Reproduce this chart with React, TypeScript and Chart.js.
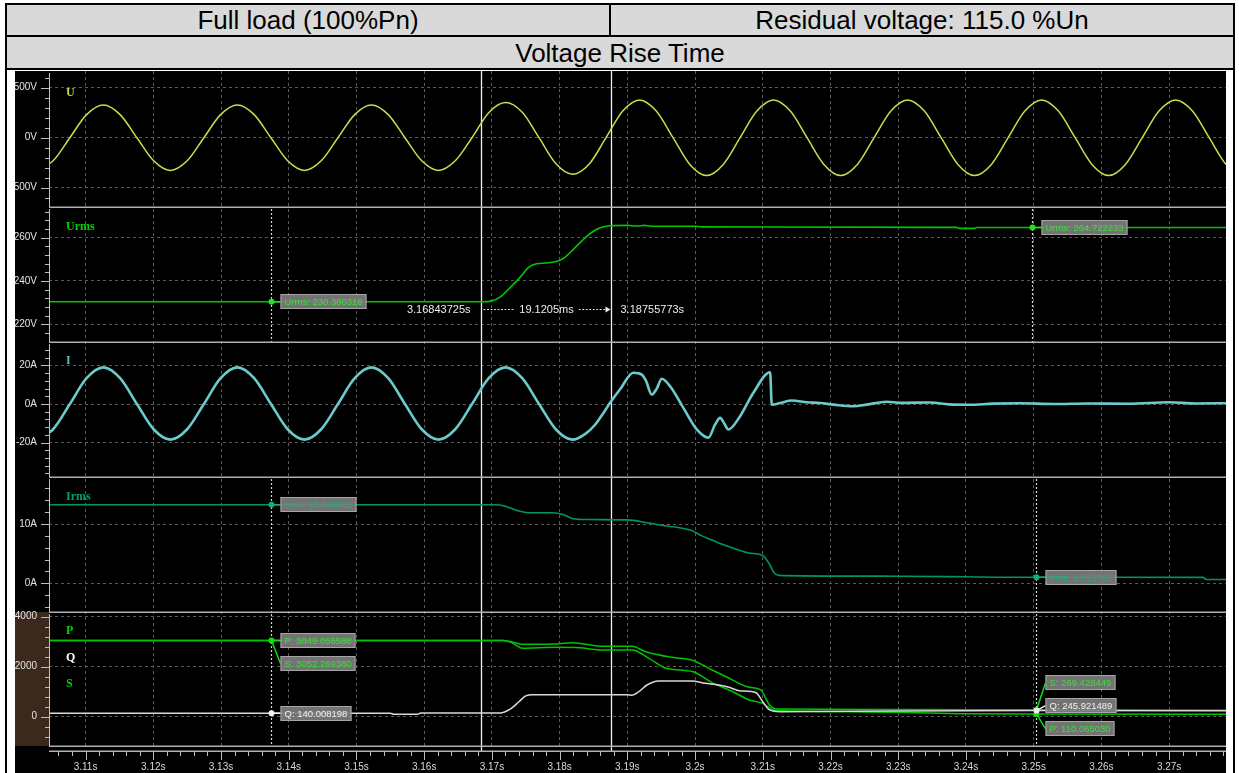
import React, { useEffect, useRef } from "react";
import { Chart, registerables } from "chart.js";

Chart.register(...registerables);

// ---- time axis -------------------------------------------------------------
const X_MIN = 3.1046;
const X_MAX = 3.2784;
const X_TICKS = [3.11, 3.12, 3.13, 3.14, 3.15, 3.16, 3.17, 3.18, 3.19, 3.2, 3.21, 3.22, 3.23, 3.24, 3.25, 3.26, 3.27];
const X_TICK_LABELS = ["3.11s", "3.12s", "3.13s", "3.14s", "3.15s", "3.16s", "3.17s", "3.18s", "3.19s", "3.2s", "3.21s", "3.22s", "3.23s", "3.24s", "3.25s", "3.26s", "3.27s"];

// ---- per-panel value axes --------------------------------------------------
const U_TICKS = [-500, 0, 500];
const U_TICK_LABELS = ["-500V", "0V", "500V"];
const URMS_TICKS = [220, 240, 260];
const URMS_TICK_LABELS = ["220V", "240V", "260V"];
const I_TICKS = [-20, 0, 20];
const I_TICK_LABELS = ["-20A", "0A", "20A"];
const IRMS_TICKS = [0, 10];
const IRMS_TICK_LABELS = ["0A", "10A"];
const PQS_TICKS = [0, 2000, 4000];
const PQS_TICK_LABELS = ["0", "2000", "4000"];

// ---- cursors and readings --------------------------------------------------
const CURSOR_A = 3.1374;
const CURSOR_B_URMS = 3.2498;
const CURSOR_B = 3.2503;
const RISE_START = 3.16843725;
const RISE_END = 3.18755773;

const URMS_READINGS = [230.380316, 264.722233];
const IRMS_READINGS = [13.248311, 1.017767];
const P_READINGS = [3049.056588, 110.06503];
const Q_READINGS = [140.008198, 245.921489];
const S_READINGS = [3052.26938, 269.428449];

// ---- series: [time s, value] -----------------------------------------------
const U_WAVE: [number, number][] = [
  [3.10273, -327], [3.10521, -231], [3.10768, 0], [3.11015, 231], [3.11263, 327], [3.1151, 231],
  [3.11758, 0], [3.12005, -231], [3.12252, -327], [3.125, -231], [3.12747, 0], [3.12994, 231],
  [3.13242, 327], [3.13489, 231], [3.13737, 0], [3.13984, -231], [3.14232, -327], [3.14479, -231],
  [3.14727, 0], [3.14974, 231], [3.15221, 327], [3.15469, 231], [3.15716, 0], [3.15964, -231],
  [3.16211, -327], [3.16459, -231], [3.16706, 0], [3.16953, 250], [3.17201, 352], [3.17448, 255],
  [3.17696, 0], [3.17943, -258], [3.1819, -365], [3.18438, -262], [3.18685, 0], [3.18932, 267],
  [3.1918, 378], [3.19427, 267], [3.19675, 0], [3.19922, -267], [3.2017, -378], [3.20417, -267],
  [3.20665, 0], [3.20912, 267], [3.21159, 378], [3.21407, 267], [3.21654, 0], [3.21902, -267],
  [3.22149, -378], [3.22397, -267], [3.22644, 0], [3.22891, 267], [3.23139, 378], [3.23386, 267],
  [3.23634, 0], [3.23881, -267], [3.24128, -378], [3.24376, -267], [3.24623, 0], [3.2487, 267],
  [3.25118, 378], [3.25365, 267], [3.25613, 0], [3.2586, -267], [3.26108, -378], [3.26355, -267],
  [3.26603, 0], [3.2685, 267], [3.27097, 378], [3.27345, 267], [3.27592, 0], [3.2784, -267],
  [3.28087, -378],
];

const URMS_SERIES: [number, number][] = [
  [3.104, 230.380316], [3.1684, 230.380316], [3.17, 230.8], [3.1712, 232.5], [3.1727, 237],
  [3.1742, 241.8], [3.1755, 246.5], [3.1766, 248], [3.178, 248.3], [3.1795, 249], [3.1806, 250.5],
  [3.182, 254.5], [3.1836, 259.5], [3.1851, 263.2], [3.1862, 264.8], [3.1875, 265.5], [3.19, 265.7],
  [3.1915, 265.4], [3.1925, 265.7], [3.1935, 265.3], [3.2, 265.3], [3.201, 265.0], [3.2386, 264.8],
  [3.239, 264.3], [3.2412, 264.3], [3.2416, 264.75], [3.2498, 264.722233], [3.279, 264.72],
];

const I_WAVE: [number, number][] = [
  [3.10273, -18.5], [3.10521, -13.1], [3.10768, 0], [3.11015, 13.4], [3.11263, 19], [3.1151, 13.4],
  [3.11758, 0], [3.12005, -13.1], [3.12252, -18.5], [3.125, -13.1], [3.12747, 0], [3.12994, 13.4],
  [3.13242, 19], [3.13489, 13.4], [3.13737, 0], [3.13984, -13.1], [3.14232, -18.5], [3.14479, -13.1],
  [3.14727, 0], [3.14974, 13.4], [3.15221, 19], [3.15469, 13.4], [3.15716, 0], [3.15964, -13.1],
  [3.16211, -18.5], [3.16459, -13.1], [3.16706, 0], [3.16953, 13.4], [3.17201, 19], [3.17448, 13.4],
  [3.17696, 0], [3.17943, -13.1], [3.1819, -18.5], [3.1838, -15.5], [3.1853, -10.5], [3.1865, -4.5],
  [3.18745, 0.6], [3.1889, 7.5], [3.19089, 16.2], [3.19213, 15.3], [3.19276, 12], [3.1936, 4.9],
  [3.19434, 8], [3.19508, 13.1], [3.19631, 9.2], [3.19827, -2], [3.20025, -13.2], [3.20197, -17.5],
  [3.20296, -10.6], [3.2037, -7.2], [3.20429, -10], [3.20492, -13.2], [3.20665, -6.3], [3.20861, 5.8],
  [3.21108, 16.5], [3.21133, -0.3], [3.21255, 0.5], [3.21428, 1.8], [3.2165, 0.9], [3.21846, 0.5],
  [3.22043, -0.3], [3.22338, -1.2], [3.22536, -0.3], [3.22832, 1.2], [3.23028, 0.6], [3.2347, 0.8],
  [3.2375, -0.2], [3.2405, -0.4], [3.244, 0.2], [3.248, 0.4], [3.253, 0], [3.258, 0.3], [3.264, 0.1],
  [3.27, 0.9], [3.274, 0.3], [3.2784, 0.4],
];

const IRMS_SERIES: [number, number][] = [
  [3.104, 13.248311], [3.1705, 13.248311], [3.172, 13.0], [3.174, 12.2], [3.1755, 11.9], [3.179, 11.9],
  [3.1805, 11.6], [3.182, 10.9], [3.184, 10.75], [3.19, 10.7], [3.193, 10.2], [3.1955, 9.7],
  [3.1975, 9.4], [3.1995, 8.9], [3.201, 8.0], [3.2025, 7.3], [3.204, 6.6], [3.206, 5.8], [3.208, 5.1],
  [3.21, 4.7], [3.211, 3.2], [3.2118, 1.6], [3.213, 1.3], [3.23, 1.2], [3.24, 1.1], [3.246, 1.02],
  [3.2503, 1.017767], [3.275, 1.0], [3.2755, 0.65], [3.279, 0.65],
];

const P_SERIES: [number, number][] = [
  [3.104, 3049.056588], [3.1716, 3049], [3.173, 2950], [3.1745, 2740], [3.1795, 2775], [3.183, 2760],
  [3.1858, 2670], [3.1907, 2670], [3.1932, 2335], [3.1957, 1935], [3.1997, 1800], [3.2027, 1335],
  [3.2056, 1000], [3.208, 670], [3.21, 535], [3.2115, 270], [3.213, 240], [3.23, 180], [3.24, 120],
  [3.2503, 110.06503], [3.279, 100],
];

const Q_SERIES: [number, number][] = [
  [3.104, 140.008198], [3.155, 140], [3.1555, 100], [3.159, 100], [3.1595, 148], [3.1712, 148],
  [3.1727, 300], [3.174, 600], [3.175, 830], [3.176, 880], [3.19, 880], [3.1907, 860], [3.1917, 1000],
  [3.1929, 1268], [3.1946, 1428], [3.1995, 1428], [3.2015, 1335], [3.2035, 1268], [3.205, 1175],
  [3.2065, 1040], [3.209, 960], [3.21, 600], [3.211, 270], [3.2125, 200], [3.23, 230],
  [3.2503, 245.921489], [3.279, 240],
];

const S_SERIES: [number, number][] = [
  [3.104, 3052.26938], [3.1716, 3052], [3.173, 2990], [3.1745, 2900], [3.1795, 2910], [3.1818, 2960],
  [3.1838, 2900], [3.1858, 2820], [3.1907, 2815], [3.1927, 2600], [3.1966, 2375], [3.1995, 2270],
  [3.2025, 1870], [3.2046, 1600], [3.208, 1175], [3.2097, 1070], [3.211, 470], [3.212, 310],
  [3.23, 290], [3.2503, 269.428449], [3.279, 260],
];

// ---- appearance ------------------------------------------------------------
const FONT = 'Arial, "Liberation Sans", sans-serif';
const HEADER_BG = "#d9d9d9";
const AXIS_W = 34;
const C_U = "#bde34e";
const C_URMS = "#00c800";
const C_I = "#6ccaca";
const C_IRMS = "#00946a";
const C_PS = "#00c400";
const C_Q = "#d9d9d9";

const toXY = (pts: [number, number][]) => pts.map(([x, y]) => ({ x, y }));

function valueAxis(min: number, max: number, ticks: number[], labels: string[], weight: number, stackWeight: number) {
  return {
    type: "linear" as const,
    position: "left" as const,
    stack: "panels",
    stackWeight,
    weight,
    min,
    max,
    afterBuildTicks: (s: any) => {
      s.ticks = ticks.map((v) => ({ value: v }));
    },
    afterFit: (s: any) => {
      s.width = AXIS_W;
      s.paddingTop = 0;
      s.paddingBottom = 0;
    },
    ticks: {
      autoSkip: false,
      padding: 12,
      color: "#e4e4e4",
      font: { family: FONT, size: 10 },
      callback: (v: any) => labels[ticks.indexOf(Number(v))] ?? "",
    },
    grid: { color: "#5a5a5a", lineWidth: 1, drawTicks: false },
    border: { display: false, dash: [3, 3] },
  };
}

function lineSet(label: string, pts: [number, number][], yAxisID: string, color: string, width: number) {
  return {
    label,
    data: toXY(pts),
    yAxisID,
    xAxisID: "x",
    borderColor: color,
    borderWidth: width,
    pointRadius: 0,
    cubicInterpolationMode: "monotone" as const,
    fill: false,
  };
}

function drawTag(ctx: CanvasRenderingContext2D, x: number, y: number, text: string, color: string) {
  ctx.font = `9.5px ${FONT}`;
  const w = Math.round(ctx.measureText(text).width + 8);
  const h = 15;
  const top = Math.round(y - h / 2);
  ctx.fillStyle = "rgba(125,125,125,0.92)";
  ctx.fillRect(x, top, w, h);
  ctx.strokeStyle = "#a6a6a6";
  ctx.lineWidth = 1;
  ctx.strokeRect(x + 0.5, top + 0.5, w - 1, h - 1);
  ctx.fillStyle = color;
  ctx.textAlign = "left";
  ctx.textBaseline = "middle";
  ctx.fillText(text, x + 4, top + h / 2 + 0.5);
}

function drawMarker(
  ctx: CanvasRenderingContext2D,
  cx: number,
  cy: number,
  color: string,
  tags: { dy: number; text: string; color: string }[]
) {
  for (const t of tags) {
    ctx.strokeStyle = color;
    ctx.lineWidth = 1.5;
    ctx.beginPath();
    ctx.moveTo(cx, cy);
    ctx.lineTo(cx + 9, cy + t.dy);
    ctx.stroke();
    drawTag(ctx, cx + 9, cy + t.dy, t.text, t.color);
  }
  ctx.fillStyle = color;
  ctx.beginPath();
  ctx.arc(cx, cy, 3, 0, Math.PI * 2);
  ctx.fill();
}

const AXIS_MARKS = [
  { id: "yU", major: U_TICKS, minor: 100 },
  { id: "yUrms", major: URMS_TICKS, minor: 4 },
  { id: "yI", major: I_TICKS, minor: 4 },
  { id: "yIrms", major: IRMS_TICKS, minor: 2 },
  { id: "yP", major: PQS_TICKS, minor: 400 },
];

const CHANNEL_NAMES = [
  { id: "yU", text: "U", color: "#b9dc48", dy: 22 },
  { id: "yUrms", text: "Urms", color: "#00d400", dy: 20 },
  { id: "yI", text: "I", color: "#58bcbc", dy: 19 },
  { id: "yIrms", text: "Irms", color: "#00a070", dy: 20 },
  { id: "yP", text: "P", color: "#00d000", dy: 19 },
  { id: "yP", text: "Q", color: "#ffffff", dy: 46 },
  { id: "yP", text: "S", color: "#00d000", dy: 72 },
];

const scopePlugin = {
  id: "scope",
  beforeDraw(chart: any) {
    const { ctx, width, height, chartArea, scales } = chart;
    ctx.save();
    ctx.fillStyle = "#000";
    ctx.fillRect(0, 0, width, height);
    ctx.fillStyle = "#3a291c";
    ctx.fillRect(0, scales.yP.top, chartArea.left, scales.yP.bottom - scales.yP.top);
    ctx.restore();
  },
  beforeDatasetsDraw(chart: any) {
    const { ctx, chartArea, scales } = chart;
    const x = scales.x;
    ctx.save();
    // dotted cursors
    ctx.strokeStyle = "#d6d6d6";
    ctx.lineWidth = 1.2;
    ctx.setLineDash([2, 2]);
    const cursor = (t: number, id: string) => {
      const px = Math.round(x.getPixelForValue(t)) + 0.5;
      ctx.beginPath();
      ctx.moveTo(px, scales[id].top + 2);
      ctx.lineTo(px, scales[id].bottom);
      ctx.stroke();
    };
    cursor(CURSOR_A, "yUrms");
    cursor(CURSOR_B_URMS, "yUrms");
    cursor(CURSOR_A, "yIrms");
    cursor(CURSOR_B, "yIrms");
    cursor(CURSOR_A, "yP");
    cursor(CURSOR_B, "yP");
    // rise time limits
    ctx.setLineDash([]);
    ctx.strokeStyle = "#f0f0f0";
    ctx.lineWidth = 1.3;
    for (const t of [RISE_START, RISE_END]) {
      const px = Math.round(x.getPixelForValue(t)) + 0.5;
      ctx.beginPath();
      ctx.moveTo(px, chartArea.top);
      ctx.lineTo(px, chartArea.bottom + 5);
      ctx.stroke();
    }
    ctx.restore();
  },
  afterDraw(chart: any) {
    const { ctx, chartArea: ca, scales } = chart;
    const x = scales.x;
    ctx.save();

    // panel frames
    ctx.strokeStyle = "#b0b0b0";
    ctx.lineWidth = 1.5;
    const hline = (y: number) => {
      ctx.beginPath();
      ctx.moveTo(ca.left, y);
      ctx.lineTo(ca.right, y);
      ctx.stroke();
    };
    for (const id of ["yUrms", "yI", "yIrms", "yP"]) hline(Math.round(scales[id].top) + 0.25);
    hline(Math.round(scales.yP.bottom) + 0.25);
    hline(Math.round(scales.yP.bottom) + 5.25);

    // value axes with major / minor tick marks
    ctx.lineWidth = 1;
    ctx.strokeStyle = "#bdbdbd";
    for (const a of AXIS_MARKS) {
      const s = scales[a.id];
      ctx.beginPath();
      ctx.moveTo(ca.left + 0.5, s.top + 2);
      ctx.lineTo(ca.left + 0.5, s.bottom);
      ctx.stroke();
      const first = Math.ceil(s.min / a.minor) * a.minor;
      for (let v = first; v <= s.max; v += a.minor) {
        const py = Math.round(s.getPixelForValue(v)) + 0.5;
        if (py < s.top + 2 || py > s.bottom - 1) continue;
        const isMajor = a.major.some((m) => Math.abs(m - v) < 1e-6);
        ctx.beginPath();
        ctx.moveTo(ca.left - (isMajor ? 8 : 4), py);
        ctx.lineTo(ca.left, py);
        ctx.stroke();
      }
    }

    // time axis tick marks
    const axisY = Math.round(scales.yP.bottom) + 5;
    for (let k = Math.ceil(X_MIN / 0.002); k * 0.002 <= X_MAX; k++) {
      const t = k * 0.002;
      const px = Math.round(x.getPixelForValue(t)) + 0.5;
      const isMajor = X_TICKS.some((m) => Math.abs(m - t) < 1e-7);
      ctx.beginPath();
      ctx.moveTo(px, axisY);
      ctx.lineTo(px, axisY + (isMajor ? 9 : 5));
      ctx.stroke();
    }

    // channel names
    ctx.font = `bold 12px "Liberation Serif", "DejaVu Serif", serif`;
    ctx.textAlign = "left";
    ctx.textBaseline = "middle";
    for (const c of CHANNEL_NAMES) {
      ctx.fillStyle = c.color;
      ctx.fillText(c.text, ca.left + 17, scales[c.id].top + c.dy);
    }

    // cursor readouts
    const xa = Math.round(x.getPixelForValue(CURSOR_A)) + 0.5;
    const xbU = Math.round(x.getPixelForValue(CURSOR_B_URMS)) + 0.5;
    const xb = Math.round(x.getPixelForValue(CURSOR_B)) + 0.5;
    const yU = scales.yUrms;
    const yIr = scales.yIrms;
    const yP = scales.yP;
    const tagGreen = "#3be03b";
    const tagIrms = "#1fb27a";

    drawMarker(ctx, xa, yU.getPixelForValue(URMS_READINGS[0]), "#22e022", [
      { dy: 0, text: `Urms: ${URMS_READINGS[0].toFixed(6)}`, color: tagGreen },
    ]);
    drawMarker(ctx, xbU, yU.getPixelForValue(URMS_READINGS[1]), "#22e022", [
      { dy: 0, text: `Urms: ${URMS_READINGS[1].toFixed(6)}`, color: tagGreen },
    ]);
    drawMarker(ctx, xa, yIr.getPixelForValue(IRMS_READINGS[0]), "#10b070", [
      { dy: 0, text: `Irms: ${IRMS_READINGS[0].toFixed(6)}`, color: tagIrms },
    ]);
    drawMarker(ctx, xb, yIr.getPixelForValue(IRMS_READINGS[1]), "#10b070", [
      { dy: 0, text: `Irms: ${IRMS_READINGS[1].toFixed(6)}`, color: tagIrms },
    ]);
    // power readouts, first cursor
    const pA = yP.getPixelForValue(P_READINGS[0]);
    const qA = yP.getPixelForValue(Q_READINGS[0]);
    drawMarker(ctx, xa, qA, "#f2f2f2", [{ dy: 0, text: `Q: ${Q_READINGS[0].toFixed(6)}`, color: "#f4f4f4" }]);
    drawMarker(ctx, xa, pA, "#10dd10", [
      { dy: 0, text: `P: ${P_READINGS[0].toFixed(6)}`, color: tagGreen },
      { dy: 23, text: `S: ${S_READINGS[0].toFixed(6)}`, color: tagGreen },
    ]);
    // power readouts, second cursor
    const sB = yP.getPixelForValue(S_READINGS[1]);
    const qB = yP.getPixelForValue(Q_READINGS[1]);
    const pB = yP.getPixelForValue(P_READINGS[1]);
    drawMarker(ctx, xb, sB, "#10dd10", [{ dy: -27, text: `S: ${S_READINGS[1].toFixed(6)}`, color: tagGreen }]);
    drawMarker(ctx, xb, pB, "#10dd10", [{ dy: 15, text: `P: ${P_READINGS[1].toFixed(6)}`, color: tagGreen }]);
    drawMarker(ctx, xb, qB, "#f2f2f2", [{ dy: -5, text: `Q: ${Q_READINGS[1].toFixed(6)}`, color: "#f4f4f4" }]);

    // rise time measurement
    const x0 = Math.round(x.getPixelForValue(RISE_START)) + 0.5;
    const x1 = Math.round(x.getPixelForValue(RISE_END)) + 0.5;
    const my = Math.round(yU.top + 102) + 0.5;
    const durText = `${((RISE_END - RISE_START) * 1000).toFixed(4)}ms`;
    ctx.font = `11px ${FONT}`;
    ctx.fillStyle = "#ececec";
    ctx.textBaseline = "middle";
    ctx.textAlign = "right";
    ctx.fillText(`${RISE_START.toFixed(8)}s`, x0 - 11, my);
    ctx.textAlign = "left";
    ctx.fillText(`${RISE_END.toFixed(8)}s`, x1 + 9, my);
    ctx.textAlign = "center";
    const mid = (x0 + x1) / 2;
    ctx.fillText(durText, mid, my);
    const half = ctx.measureText(durText).width / 2 + 5;
    ctx.strokeStyle = "#d8d8d8";
    ctx.lineWidth = 1;
    ctx.setLineDash([2, 1.5]);
    ctx.beginPath();
    ctx.moveTo(x0 + 2, my);
    ctx.lineTo(mid - half, my);
    ctx.moveTo(mid + half, my);
    ctx.lineTo(x1 - 5, my);
    ctx.stroke();
    ctx.setLineDash([]);
    ctx.fillStyle = "#f0f0f0";
    ctx.beginPath();
    ctx.moveTo(x1 - 1, my);
    ctx.lineTo(x1 - 6, my - 3);
    ctx.lineTo(x1 - 6, my + 3);
    ctx.closePath();
    ctx.fill();

    ctx.restore();
  },
};

export default function App() {
  const ref = useRef<HTMLCanvasElement>(null);

  useEffect(() => {
    const canvas = ref.current;
    if (!canvas) return;
    const chart = new Chart(canvas, {
      type: "line",
      data: {
        datasets: [
          lineSet("U", U_WAVE, "yU", C_U, 1.5),
          lineSet("Urms", URMS_SERIES, "yUrms", C_URMS, 1.6),
          lineSet("I", I_WAVE, "yI", C_I, 2.6),
          lineSet("Irms", IRMS_SERIES, "yIrms", C_IRMS, 1.6),
          lineSet("Q", Q_SERIES, "yP", C_Q, 1.5),
          lineSet("S", S_SERIES, "yP", C_PS, 1.5),
          lineSet("P", P_SERIES, "yP", C_PS, 1.5),
        ],
      },
      options: {
        responsive: false,
        maintainAspectRatio: false,
        animation: false,
        events: [],
        layout: { padding: 0 },
        plugins: { legend: { display: false }, tooltip: { enabled: false } },
        scales: {
          x: {
            type: "linear",
            position: "bottom",
            min: X_MIN,
            max: X_MAX,
            afterBuildTicks: (s: any) => {
              s.ticks = X_TICKS.map((v) => ({ value: v }));
            },
            afterFit: (s: any) => {
              s.height = 27;
              s.paddingLeft = 0;
              s.paddingRight = 0;
            },
            ticks: {
              autoSkip: false,
              maxRotation: 0,
              padding: 15,
              color: "#dadada",
              font: { family: FONT, size: 10 },
              callback: (_v: any, i: number) => X_TICK_LABELS[i],
            },
            grid: { color: "#5a5a5a", lineWidth: 1, drawTicks: false },
            border: { display: false, dash: [3, 3] },
          },
          yU: valueAxis(-693, 667, U_TICKS, U_TICK_LABELS, 5, 136),
          yUrms: valueAxis(211.8, 274.2, URMS_TICKS, URMS_TICK_LABELS, 4, 135),
          yI: valueAxis(-37.9, 32.2, I_TICKS, I_TICK_LABELS, 3, 135),
          yIrms: valueAxis(-4.84, 17.93, IRMS_TICKS, IRMS_TICK_LABELS, 2, 135),
          yP: valueAxis(-1172, 4188, PQS_TICKS, PQS_TICK_LABELS, 1, 134),
        },
      } as any,
      plugins: [scopePlugin],
    });
    return () => chart.destroy();
  }, []);

  const cell: React.CSSProperties = {
    position: "absolute",
    background: HEADER_BG,
    display: "flex",
    alignItems: "center",
    justifyContent: "center",
    fontFamily: FONT,
    fontSize: 26,
    lineHeight: 1,
    color: "#000",
    whiteSpace: "nowrap",
  };
  const bar = (left: number, top: number, width: number, height: number): React.CSSProperties => ({
    position: "absolute",
    left,
    top,
    width,
    height,
    background: "#000",
  });

  return (
    <div style={{ position: "absolute", left: 0, top: 0, width: 1239, height: 773, background: "#fff", overflow: "hidden" }}>
      <div style={bar(5, 3, 1230, 2)} />
      <div style={bar(5, 3, 2, 770)} />
      <div style={bar(1233, 3, 2, 770)} />
      <div style={{ ...cell, left: 7, top: 5, width: 602, height: 30 }}>Full load (100%Pn)</div>
      <div style={bar(609, 5, 2, 30)} />
      <div style={{ ...cell, left: 611, top: 5, width: 622, height: 30 }}>Residual voltage: 115.0 %Un</div>
      <div style={bar(7, 35, 1226, 2)} />
      <div style={{ ...cell, left: 7, top: 37, width: 1226, height: 31 }}>Voltage Rise Time</div>
      <div style={bar(7, 68, 1226, 2)} />
      <canvas
        ref={ref}
        width={1211}
        height={702}
        style={{ position: "absolute", left: 15, top: 71, width: 1211, height: 702 }}
      />
    </div>
  );
}
